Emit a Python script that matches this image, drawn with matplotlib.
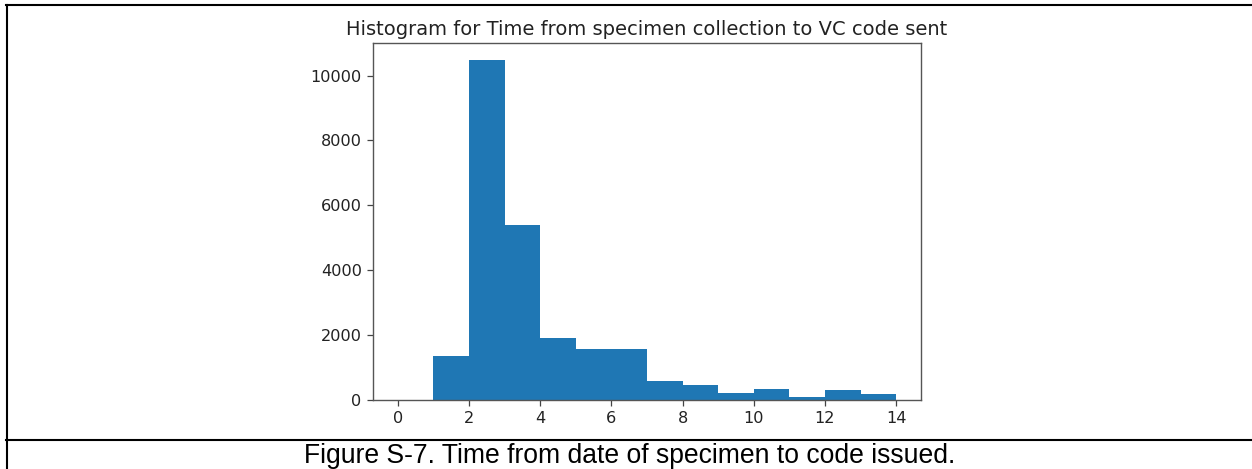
import matplotlib
matplotlib.use("Agg")
import matplotlib.pyplot as plt
from matplotlib.lines import Line2D

# bin edges (days) and bar heights
bin_edges = list(range(0, 15))
counts = [0, 1360, 10480, 5380, 1920, 1570, 1570, 600, 470, 205, 350, 95, 305, 200]
bin_left = bin_edges[:-1]

x_ticks = [0, 2, 4, 6, 8, 10, 12, 14]
y_ticks = [0, 2000, 4000, 6000, 8000, 10000]

title = "Histogram for Time from specimen collection to VC code sent"
caption = "Figure S-7. Time from date of specimen to code issued."

W, H = 1252, 469
fig = plt.figure(figsize=(W / 100, H / 100), dpi=100)
fig.patch.set_facecolor("white")

ax = fig.add_axes([373 / W, 1 - 400 / H, (921 - 373) / W, (400 - 43) / H])
ax.hist(bin_left, bins=bin_edges, weights=counts, color="#1f77b4")

ax.set_xticks(x_ticks)
ax.set_yticks(y_ticks)
ax.set_title(title, fontsize=14, pad=6, color="#222222", family="DejaVu Sans")
ax.tick_params(labelsize=11.6, length=4.1, width=0.9, pad=4,
               colors="#444444", labelcolor="#222222")
for s in ax.spines.values():
    s.set_linewidth(1.0)
    s.set_color("#555555")

# table borders around the figure and caption
lw = 1.5
fig.add_artist(Line2D([6 / W, 1], [1 - 5.5 / H, 1 - 5.5 / H], color="black", lw=lw))
fig.add_artist(Line2D([7 / W, 7 / W], [0, 1 - 5.5 / H], color="black", lw=lw))
fig.add_artist(Line2D([6 / W, 1], [1 - 440 / H, 1 - 440 / H], color="black", lw=lw))

fig.text(630 / W, 1 - 463 / H, caption, ha="center", va="baseline",
         fontsize=19.1, family="Liberation Sans", color="black")

fig.savefig("out.png", dpi=100)
